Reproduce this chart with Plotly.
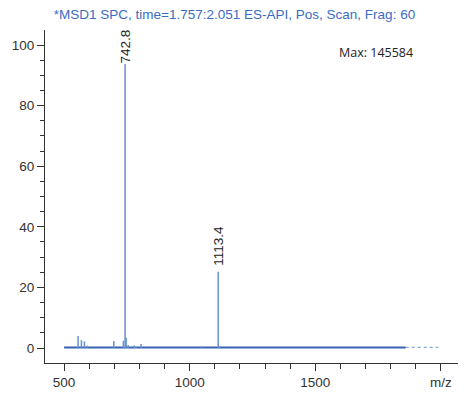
import plotly.graph_objects as go

# Peak list (m/z, relative intensity %)
peak_mz = [555.8, 569, 581, 593, 698, 736, 742.8, 747, 755, 779, 786, 806, 1047, 1113.4, 1120]
peak_int = [4.0, 2.6, 2.2, 0.8, 2.3, 2.4, 100, 3.4, 1.0, 0.8, 0.5, 1.3, 0.6, 25.2, 0.7]

# Baseline noise extent
noise_dense_mz = [500, 1860]
noise_dense_int = [0.2, 0.2]
noise_sparse_mz = [1860, 1990]
noise_sparse_int = [0.2, 0.2]

labels_mz = [742.8, 1113.4]
labels_int = [100, 25.2]
labels_text = ["742.8", "1113.4"]

x_tickvals = [500, 1000, 1500, 2000]
x_ticktext = ["500", "1000", "1500", "m/z"]
y_tickvals = [0, 20, 40, 60, 80, 100]

stick_x, stick_y = [], []
for m, v in zip(peak_mz, peak_int):
    stick_x += [m, m, None]
    stick_y += [0, v, None]

fig = go.Figure()
fig.add_trace(go.Scatter(x=noise_dense_mz, y=noise_dense_int, mode="lines",
                         line=dict(color="#3563b0", width=2), hoverinfo="skip"))
fig.add_trace(go.Scatter(x=noise_sparse_mz, y=noise_sparse_int, mode="lines",
                         line=dict(color="#8aa8da", width=1.2, dash="dot"), hoverinfo="skip"))
fig.add_trace(go.Scatter(x=stick_x, y=stick_y, mode="lines",
                         line=dict(color="#6690d0", width=1.5)))

# 742.8 label overlaps peak top with white background
fig.add_annotation(x=labels_mz[0], y=99.5, xref="x", yref="y", text=labels_text[0],
                   textangle=-90, showarrow=False, bgcolor="white",
                   font=dict(family="Liberation Sans, Arial", size=13.5, color="#222"),
                   xanchor="center", yanchor="middle", borderpad=0)
fig.add_annotation(x=labels_mz[1], y=labels_int[1], xref="x", yref="y", text=labels_text[1],
                   textangle=-90, showarrow=False,
                   font=dict(family="Liberation Sans, Arial", size=13.5, color="#222"),
                   xanchor="center", yanchor="bottom", yshift=5, borderpad=0)
fig.add_annotation(x=1, y=1, xref="paper", yref="paper", text="Max: 145584",
                   showarrow=False, xanchor="right", yanchor="top",
                   xshift=-43, yshift=-12,
                   font=dict(family="Open Sans", size=12.5, color="#222"))

fig.update_layout(
    width=469, height=405,
    margin=dict(l=45, r=11, t=30, b=42),
    plot_bgcolor="white", paper_bgcolor="white",
    showlegend=False,
    title=dict(text="*MSD1 SPC, time=1.757:2.051 ES-API, Pos, Scan, Frag: 60",
               x=0.5, xref="container", xanchor="center",
               y=1 - 14 / 405, yref="container", yanchor="middle",
               font=dict(family="Liberation Sans, Arial", size=13.5, color="#3a6cc4")),
    font=dict(family="Liberation Sans, Arial", size=13.5, color="#333"),
)
fig.update_xaxes(range=[424, 2068], showgrid=False, zeroline=False,
                 showline=True, linecolor="#333", linewidth=1,
                 ticks="outside", ticklen=7, tickcolor="#333",
                 tickvals=x_tickvals, ticktext=x_ticktext,
                 minor=dict(dtick=100, tick0=0, ticks="outside", ticklen=5, tickcolor="#333"))
fig.update_yaxes(range=[-4.95, 104.95], showgrid=False, zeroline=False,
                 showline=True, linecolor="#333", linewidth=1,
                 ticks="outside", ticklen=7, tickcolor="#333",
                 tickvals=y_tickvals,
                 minor=dict(dtick=5, tick0=0, ticks="outside", ticklen=4, tickcolor="#333"))

fig.write_html("out.html")
